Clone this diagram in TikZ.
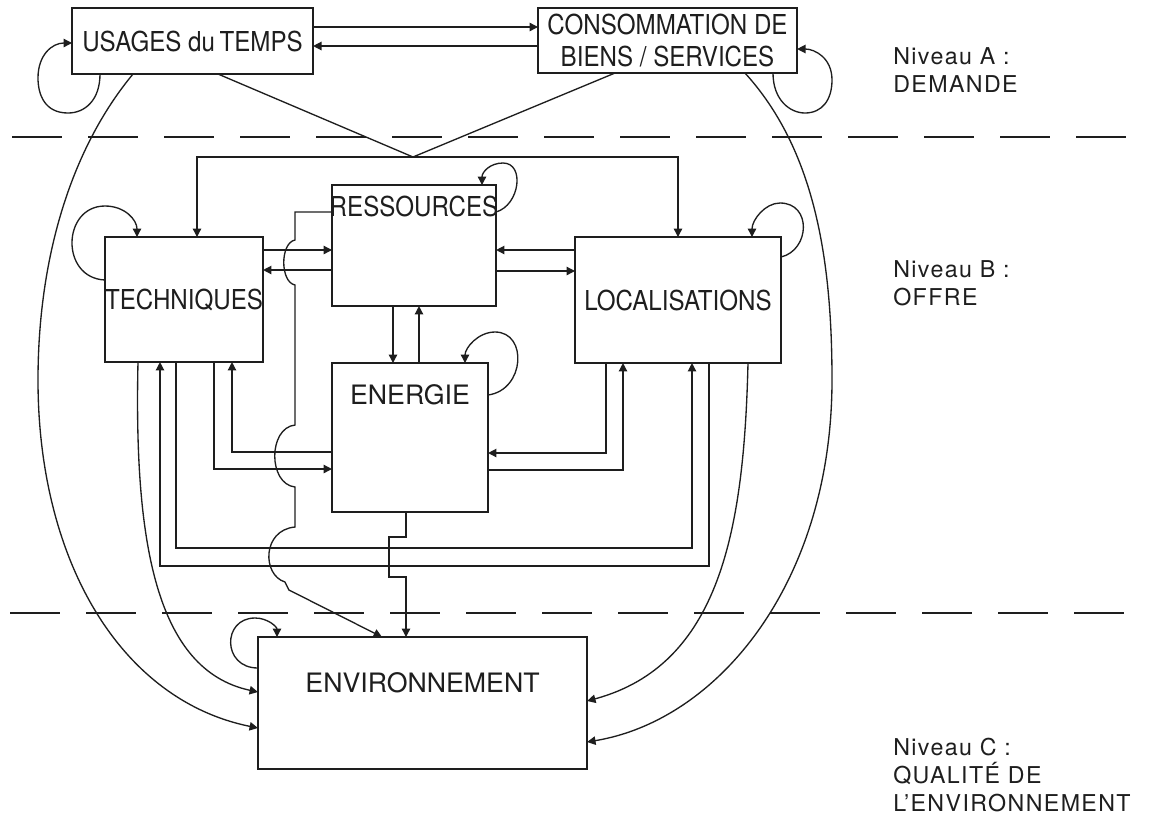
\documentclass[tikz,border=0pt]{standalone}
\usepackage{fontspec}
\setmainfont{TeX Gyre Heros}
\newfontfamily\narrowfont[FakeStretch=0.88]{TeX Gyre Heros}
\newfontfamily\spacedfont[LetterSpace=6]{TeX Gyre Heros}
\usetikzlibrary{positioning, arrows.meta, calc}
\definecolor{myblack}{RGB}{30,30,30}
\tikzset{
  boite/.style={draw=myblack, line width=1pt, inner sep=0, outer sep=0,
    anchor=north west, text=myblack, font=\narrowfont\fontsize{19.5}{22.5}\selectfont},
  titre/.style={anchor=north, inner sep=0, text=myblack},
  fleche/.style={line width=0.95pt, color=myblack, -{Triangle[length=6pt,width=6pt]}},
  trait/.style={line width=0.95pt, color=myblack},
  limite/.style={line width=1pt, color=myblack, dash pattern=on 1.25cm off 0.65cm},
  niveau/.style={anchor=north west, align=left, inner sep=0, text=myblack,
    font=\spacedfont\fontsize{16.5}{20}\selectfont}
}
\begin{document}
\begin{tikzpicture}[x=0.025cm, y=-0.025cm]
\useasboundingbox (0,0) rectangle (1151,825);

\draw[limite] (12,137) -- (1135,137);
\draw[limite] (10,613) -- (1135,613);

% niveau A
\node [boite, minimum width=6.025cm, minimum height=1.65cm] (usages) at (72,8) {USAGES du\,TEMPS};
\node [boite, minimum width=6.475cm, minimum height=1.625cm, align=center] (conso) at (538,8) {CONSOMMATION DE\\BIENS / SERVICES};

% niveau B
\node [boite, minimum width=3.95cm, minimum height=3.125cm] (tech) at (105,237) {TECHNIQUES};
\node [boite, minimum width=4.1cm, minimum height=3.025cm,
  label={[titre, yshift=-0.27cm, font=\narrowfont\fontsize{19.5}{22.5}\selectfont]north:RESSOURCES}] (ress) at (332,185) {};
\node [boite, minimum width=3.9cm, minimum height=3.725cm,
  label={[titre, yshift=-0.52cm, font=\fontsize{19}{22}\selectfont]north:ENERGIE}] (energ) at (332,363) {};
\node [boite, minimum width=5.15cm, minimum height=3.15cm] (loc) at (575,237) {LOCALISATIONS};

% niveau C
\node [boite, minimum width=8.225cm, minimum height=3.3cm,
  label={[titre, yshift=-0.89cm, font=\fontsize{19}{22}\selectfont]north:ENVIRONNEMENT}] (env) at (258,637) {};

\node [niveau] (nivA) at (893,47) {Niveau A :\\DEMANDE};
\node [niveau] (nivB) at (893,260) {Niveau B :\\OFFRE};
\node [niveau] (nivC) at (893,738) {Niveau C :\\QUALIT\'E DE\\L’ENVIRONNEMENT};

% demande
\draw[fleche] (usages.east |- 0,27) -- (conso.west |- 0,27);
\draw[fleche] (conso.west |- 0,46) -- (usages.east |- 0,46);
\draw[fleche] (usages.south -| 100,0) .. controls (100,100) and (85,113) .. (68,113)
  .. controls (45,113) and (38,95) .. (38,78) .. controls (38,55) and (52,43) .. (usages.west |- 0,43);
\draw[fleche] (conso.south -| 773,0) .. controls (773,100) and (790,113) .. (805,113)
  .. controls (822,113) and (832,100) .. (832,80) .. controls (832,58) and (815,49) .. (conso.east |- 0,49);

\coordinate (fourche) at (413,157);
\draw[trait] (usages.south -| 218,0) -- (fourche) -- (conso.south -| 615,0);
\draw[fleche] (fourche) -| (tech.north -| 197,0);
\draw[fleche] (fourche) -| (loc.north -| 678,0);

% offre
\draw[fleche] (tech.east |- 0,250) -- (ress.west |- 0,250);
\draw[fleche] (ress.west |- 0,270) -- (tech.east |- 0,270);
\draw[fleche] (loc.west |- 0,250) -- (ress.east |- 0,250);
\draw[fleche] (ress.east |- 0,271) -- (loc.west |- 0,271);
\draw[fleche] (ress.south -| 393,0) -- (energ.north -| 393,0);
\draw[fleche] (energ.north -| 419,0) -- (ress.south -| 419,0);

\draw[fleche] (tech.west |- 0,280) .. controls (60,278) and (62,206) .. (105,206)
  .. controls (125,206) and (137,220) .. (tech.north -| 137,0);
\draw[fleche] (ress.east |- 0,212) .. controls (520,205) and (525,163) .. (503,163)
  .. controls (490,163) and (482,172) .. (ress.north -| 482,0);
\draw[fleche] (loc.east |- 0,257) .. controls (810,250) and (812,203) .. (780,203)
  .. controls (765,203) and (752,220) .. (loc.north -| 752,0);
\draw[fleche] (energ.east |- 0,395) .. controls (525,390) and (528,332) .. (495,332)
  .. controls (478,332) and (465,348) .. (energ.north -| 465,0);

\draw[fleche] (tech.south -| 214,0) |- (energ.west |- 0,469);
\draw[fleche] (energ.west |- 0,452) -| (tech.south -| 232,0);
\draw[fleche] (loc.south -| 606,0) |- (energ.east |- 0,453);
\draw[fleche] (energ.east |- 0,470) -| (loc.south -| 623,0);
\draw[fleche] (tech.south -| 176,0) -- (176,548) -- (692,548) -- (loc.south -| 692,0);
\draw[fleche] (loc.south -| 709,0) -- (709,566) -- (160,566) -- (tech.south -| 160,0);

% vers environnement
\draw[fleche] (ress.west |- 0,212) -- (295,212) -- (295,240)
  .. controls (280,243) and (280,282) .. (295,285) -- (295,425)
  .. controls (268,428) and (268,484) .. (295,487) -- (295,527)
  .. controls (262,530) and (262,575) .. (285,582) -- (289,590) -- (env.north -| 382,0);
\draw[fleche] (energ.south -| 406,0) -- (406,537) -- (389,537) -- (389,577) -- (406,577) -- (env.north -| 406,0);

\draw[fleche] (usages.south -| 133,0) .. controls (70,150) and (38,260) .. (38,380)
  .. controls (38,560) and (120,700) .. (env.west |- 0,728);
\draw[fleche] (tech.south -| 138,0) .. controls (134,540) and (155,670) .. (env.west |- 0,692);
\draw[fleche] (loc.south -| 748,0) .. controls (744,530) and (720,665) .. (env.east |- 0,701);
\draw[fleche] (conso.south -| 745,0) .. controls (815,150) and (832,260) .. (832,380)
  .. controls (832,580) and (720,720) .. (env.east |- 0,742);
\draw[fleche] (env.west |- 0,668) .. controls (222,668) and (222,618) .. (255,618)
  .. controls (268,618) and (277,627) .. (env.north -| 277,0);

\end{tikzpicture}
\end{document}
